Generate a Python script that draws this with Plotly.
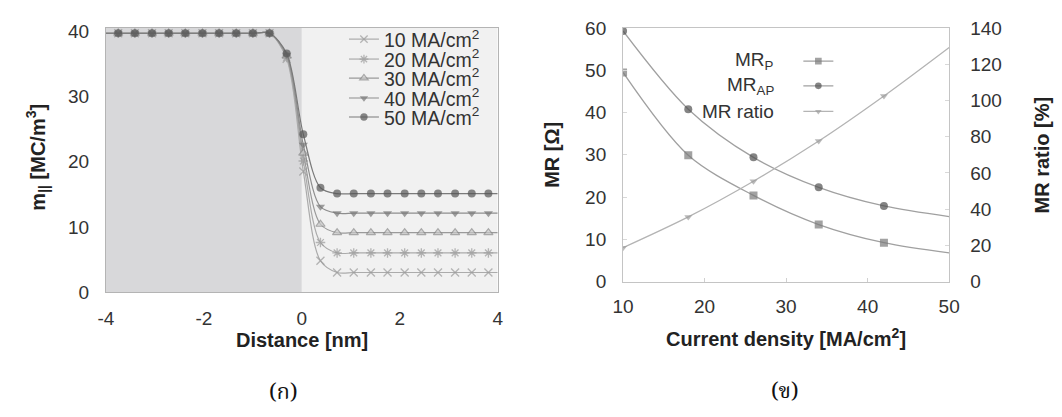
import plotly.graph_objects as go

W, H = 1062, 417

# ---------------- Left panel data: magnetisation profile ----------------
distance_nm = [-4.0, -3.75, -3.41, -3.06, -2.72, -2.38, -2.03, -1.69, -1.34, -1.00,
               -0.66, -0.31, 0.03, 0.38, 0.72, 1.06, 1.41, 1.75, 2.10, 2.44,
               2.78, 3.13, 3.47, 3.81, 4.0]
flat_left = [39.7] * 11
m_10 = flat_left + [35.8, 18.5, 4.8] + [3.0] * 11
m_20 = flat_left + [36.0, 20.1, 7.6] + [6.0] * 11
m_30 = flat_left + [36.2, 21.3, 10.4] + [9.1] * 11
m_40 = flat_left + [36.4, 22.6, 13.1] + [12.1] * 11
m_50 = flat_left + [36.6, 24.2, 16.0] + [15.1] * 11
left_names = ["10 MA/cm<sup>2</sup>", "20 MA/cm<sup>2</sup>", "30 MA/cm<sup>2</sup>",
              "40 MA/cm<sup>2</sup>", "50 MA/cm<sup>2</sup>"]
left_series = [m_10, m_20, m_30, m_40, m_50]

# ---------------- Right panel data: MR vs current density ----------------
current_density = [10, 18, 26, 34, 42, 50]
mr_p = [49.5, 29.9, 20.4, 13.5, 9.2, 6.8]
mr_ap = [59.3, 40.8, 29.4, 22.3, 17.9, 15.4]
mr_ratio = [18.7, 35.7, 55.4, 77.6, 102.5, 129.3]
right_names = ["MR<sub>P</sub>", "MR<sub>AP</sub>", "MR ratio"]

x_ticks_left = [-4, -2, 0, 2, 4]
x_ticktext_left = ["-4", "-2", "0", "2", "4"]
y_ticks_left = [0, 10, 20, 30, 40]
x_ticks_right = [10, 20, 30, 40, 50]
y_ticks_right = [0, 10, 20, 30, 40, 50, 60]
y2_ticks_right = [0, 20, 40, 60, 80, 100, 120, 140]

FONT = "Liberation Sans, Arial, Helvetica, sans-serif"

def px_x(p):
    return p / W

def px_y(p):
    return (H - p) / H

fig = go.Figure()

left_styles = [
    dict(symbol="x-thin-open", color="#9a9a9a", line="#ababab", size=8),
    dict(symbol="asterisk-open", color="#9a9a9a", line="#ababab", size=8),
    dict(symbol="triangle-up", color="#c8c8c8", line="#9a9a9a", size=8),
    dict(symbol="triangle-down", color="#787878", line="#8e8e8e", size=8),
    dict(symbol="circle", color="#555555", line="#7a7a7a", size=8),
]
legend_rows_left = [31, 52, 72, 93, 113]
n = len(distance_nm)
for i, (name, ys, st) in enumerate(zip(left_names, left_series, left_styles)):
    sizes = [0] + [st["size"]] * (n - 2) + [0]
    if st["symbol"] == "triangle-up":
        marker = dict(symbol="triangle-up", size=sizes, color=st["color"],
                      line=dict(color="#8a8a8a", width=1.2))
    elif st["symbol"] in ("x-thin-open", "asterisk-open"):
        marker = dict(symbol=st["symbol"], size=sizes, color=st["color"],
                      line=dict(color=st["color"], width=1.3))
    else:
        marker = dict(symbol=st["symbol"], size=sizes, color=st["color"], line=dict(width=0))
    lg = "legend" if i == 0 else f"legend{i+1}"
    fig.add_trace(go.Scatter(
        x=distance_nm, y=ys, name=name, mode="lines+markers",
        line=dict(color=st["line"], width=1.2, shape="spline", smoothing=0.9),
        marker=marker, xaxis="x", yaxis="y", legend=lg))

right_styles = [
    dict(symbol="square", color="#7a7a7a", line="#a0a0a0", axis="y2", size=8),
    dict(symbol="circle", color="#505050", line="#a0a0a0", axis="y2", size=8),
    dict(symbol="triangle-down", color="#9c9c9c", line="#b4b4b4", axis="y3", size=7),
]
for i, (ys, st) in enumerate(zip([mr_p, mr_ap, mr_ratio], right_styles)):
    sizes = [st["size"]] * (len(current_density) - 1) + [0]
    fig.add_trace(go.Scatter(
        x=current_density, y=ys, name="", mode="lines+markers",
        line=dict(color=st["line"], width=1.3, shape="spline", smoothing=0.9),
        marker=dict(symbol=st["symbol"], size=sizes, color=st["color"], line=dict(width=0)),
        xaxis="x2", yaxis=st["axis"], legend=f"legend{6+i}"))

layout_legends = {}
for i, row in enumerate(legend_rows_left):
    key = "legend" if i == 0 else f"legend{i+1}"
    layout_legends[key] = dict(
        x=px_x(340), y=px_y(row), xanchor="left", yanchor="middle",
        bgcolor="rgba(0,0,0,0)", borderwidth=0,
        font=dict(family=FONT, size=19.5, color="#333333"))
legend_rows_right = [54, 80, 107]
for i, row in enumerate(legend_rows_right):
    layout_legends[f"legend{6+i}"] = dict(
        x=px_x(804), y=px_y(row), xanchor="left", yanchor="middle",
        bgcolor="rgba(0,0,0,0)", borderwidth=0,
        font=dict(family=FONT, size=19, color="#333333"))

tickfont = dict(family=FONT, size=19, color="#333333")
axcommon = dict(showgrid=False, zeroline=False, showline=True, mirror=True,
                tickfont=tickfont, fixedrange=True)

shapes = [
    dict(type="rect", xref="x", yref="y", x0=-4, x1=0, y0=0, y1=40.5,
         fillcolor="#d8d8da", line=dict(width=0), layer="below"),
    dict(type="rect", xref="x", yref="y", x0=0, x1=4, y0=0, y1=40.5,
         fillcolor="#f1f1f1", line=dict(width=0), layer="below"),
]

annotations = []
def ann(text, x, y, size=20, angle=0, xanchor="center", bold=True, family=FONT, color="#222222"):
    annotations.append(dict(
        text=f"<b>{text}</b>" if bold else text, x=px_x(x), y=px_y(y),
        xref="paper", yref="paper", xanchor=xanchor, yanchor="middle",
        textangle=angle, showarrow=False,
        font=dict(family=family, size=size, color=color)))

ann("m<sub>||</sub> [MC/m<sup>3</sup>]", 27, 155, angle=-90)
ann("Distance [nm]", 297, 348)
ann("MR [Ω]", 553, 153, angle=-90)
ann("MR ratio [%]", 1053, 153, angle=-90)
ann("Current density [MA/cm<sup>2</sup>]", 791, 345)
for txt, row in zip(right_names, legend_rows_right):
    ann(txt, 781, row, size=19, xanchor="right", bold=False, color="#333333")
THAI = "Noto Serif Thai, Noto Sans Thai, Loma, Garuda, Tlwg Typo, DejaVu Sans, serif"
ann("(ก)", 278, 404, size=22, bold=False, family=THAI, color="#111111")
ann("(ข)", 790, 403, size=22, bold=False, family=THAI, color="#111111")

fig.update_layout(
    width=W, height=H, margin=dict(l=0, r=0, t=0, b=0),
    paper_bgcolor="white", plot_bgcolor="rgba(0,0,0,0)",
    font=dict(family=FONT, color="#333333"),
    xaxis=dict(domain=[px_x(97), px_x(497)], range=[-4, 4], tickvals=x_ticks_left,
               ticktext=x_ticktext_left,
               linecolor="#b4b4b4", anchor="y", ticks="", ticklabelstandoff=9, **axcommon),
    yaxis=dict(domain=[px_y(297), px_y(19)], range=[0, 40.5], tickvals=y_ticks_left,
               linecolor="#b4b4b4", anchor="x", ticks="", ticklabelstandoff=12, **axcommon),
    xaxis2=dict(domain=[px_x(625), px_x(958)], range=[10, 50], tickvals=x_ticks_right,
                linecolor="#c4c4c4", anchor="y2", ticks="inside", ticklen=4,
                tickcolor="#d0d0d0", ticklabelstandoff=8, **axcommon),
    yaxis2=dict(domain=[px_y(286), px_y(19)], range=[0, 60], tickvals=y_ticks_right,
                linecolor="#c4c4c4", anchor="x2", ticks="inside", ticklen=4,
                tickcolor="#d8d8d8", ticklabelstandoff=12, **axcommon),
    yaxis3=dict(domain=[px_y(286), px_y(19)], range=[0, 140], tickvals=y2_ticks_right,
                overlaying="y2", side="right", anchor="x2", showgrid=False, zeroline=False,
                showline=False, ticks="inside", ticklen=4, tickcolor="#d8d8d8",
                ticklabelstandoff=20, tickfont=tickfont, fixedrange=True),
    shapes=shapes, annotations=annotations, showlegend=True,
    **layout_legends,
)

fig.write_html("out.html", include_plotlyjs=True,
               config={"displayModeBar": False, "staticPlot": True},
               post_script="document.body.style.margin='0';document.body.style.overflow='hidden';")
